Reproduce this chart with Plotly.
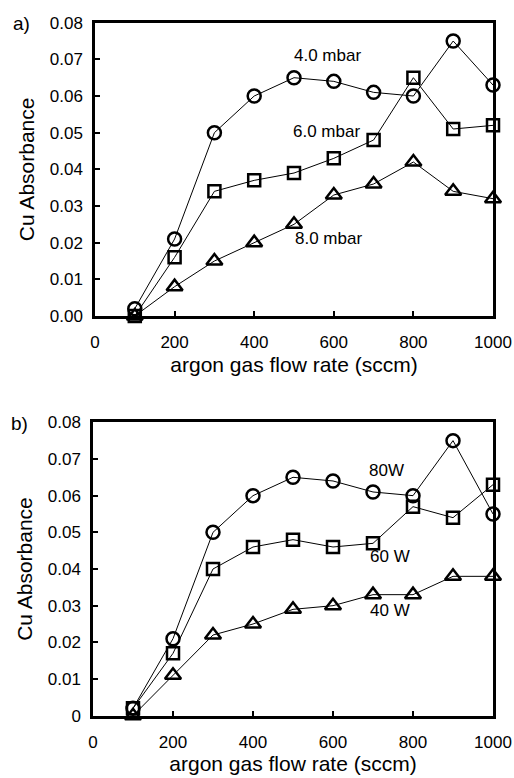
import plotly.graph_objects as go

flow = [100, 200, 300, 400, 500, 600, 700, 800, 900, 1000]

# panel a: pressure series
a_4mbar = [0.002, 0.021, 0.050, 0.060, 0.065, 0.064, 0.061, 0.060, 0.075, 0.063]
a_6mbar = [0.000, 0.016, 0.034, 0.037, 0.039, 0.043, 0.048, 0.065, 0.051, 0.052]
a_8mbar = [0.000, 0.008, 0.015, 0.020, 0.025, 0.033, 0.036, 0.042, 0.034, 0.032]

# panel b: power series
b_80w = [0.002, 0.021, 0.050, 0.060, 0.065, 0.064, 0.061, 0.060, 0.075, 0.055]
b_60w = [0.002, 0.017, 0.040, 0.046, 0.048, 0.046, 0.047, 0.057, 0.054, 0.063]
b_40w = [0.000, 0.011, 0.022, 0.025, 0.029, 0.030, 0.033, 0.033, 0.038, 0.038]

labels_a = ["4.0 mbar", "6.0 mbar", "8.0 mbar"]
labels_b = ["80W", "60 W", "40 W"]
label_pos_a = [(584, 0.0711), (582, 0.0502), (587, 0.0212)]
label_pos_b = [(734, 0.0669), (742, 0.0433), (742, 0.0288)]

x_ticks = [0, 200, 400, 600, 800, 1000]
y_ticks = [0, 0.01, 0.02, 0.03, 0.04, 0.05, 0.06, 0.07, 0.08]

FONT = "Liberation Sans, Arial, sans-serif"
symbols = ["circle-open", "square-open", "triangle-up-open"]
sizes = [13, 12, 14]

W, H = 514, 778

def dx(px):
    return px / W

def dy(py):
    return 1 - py / H

fig = go.Figure()

def add_series(ys_list, xa, ya):
    for ys, sym, sz in zip(ys_list, symbols, sizes):
        fig.add_trace(go.Scatter(
            x=flow, y=ys, mode="lines+markers", xaxis=xa, yaxis=ya,
            line=dict(color="black", width=1),
            marker=dict(symbol=sym, size=sz, color="black",
                        line=dict(color="black", width=2.5)),
            cliponaxis=False, showlegend=False))

add_series([a_4mbar, a_6mbar, a_8mbar], "x", "y")
add_series([b_80w, b_60w, b_40w], "x2", "y2")

axis_common = dict(
    showline=True, linecolor="black", linewidth=2.5, mirror=True,
    ticks="inside", ticklen=5, tickwidth=1.5, tickcolor="black",
    showgrid=False, zeroline=False, automargin=False,
    tickfont=dict(family=FONT, size=17, color="black"),
)

xcommon = dict(axis_common, range=[0, 1000], tickvals=x_ticks,
               ticklabelstandoff=9)
ycommon = dict(axis_common, range=[0, 0.08], tickvals=y_ticks,
               ticklabelstandoff=6)

title_font = dict(family=FONT, size=21, color="black")

fig.update_layout(
    width=W, height=H,
    margin=dict(l=0, r=0, t=0, b=0),
    paper_bgcolor="white", plot_bgcolor="white",
    xaxis=dict(xcommon, domain=[dx(95), dx(493)], anchor="y",
               title=dict(text="argon gas flow rate (sccm)", font=title_font, standoff=7)),
    yaxis=dict(ycommon, domain=[dy(316), dy(22.7)], anchor="x",
               tickformat=".2f",
               title=dict(text="Cu Absorbance", font=title_font, standoff=10)),
    xaxis2=dict(xcommon, domain=[dx(93), dx(493)], anchor="y2",
                title=dict(text="argon gas flow rate (sccm)", font=title_font, standoff=6)),
    yaxis2=dict(ycommon, domain=[dy(715.7), dy(422.3)], anchor="x2",
                title=dict(text="Cu Absorbance", font=title_font, standoff=10)),
)

ann_font = dict(family=FONT, size=17, color="black")
for txt, (xv, yv) in zip(labels_a, label_pos_a):
    fig.add_annotation(x=xv, y=yv, xref="x", yref="y", text=txt,
                       showarrow=False, font=ann_font)
for txt, (xv, yv) in zip(labels_b, label_pos_b):
    fig.add_annotation(x=xv, y=yv, xref="x2", yref="y2", text=txt,
                       showarrow=False, font=ann_font)

fig.add_annotation(x=dx(21), y=dy(23), xref="paper", yref="paper", text="a)",
                   xanchor="center", yanchor="middle",
                   showarrow=False, font=dict(family=FONT, size=19, color="black"))
fig.add_annotation(x=dx(19), y=dy(424), xref="paper", yref="paper", text="b)",
                   xanchor="center", yanchor="middle",
                   showarrow=False, font=dict(family=FONT, size=19, color="black"))

# remove the default 8px page margin so the figure fills the window exactly
fig.write_html("out.html",
               config={"displayModeBar": False},
               post_script="document.body.style.margin='0';document.body.style.overflow='hidden';")
